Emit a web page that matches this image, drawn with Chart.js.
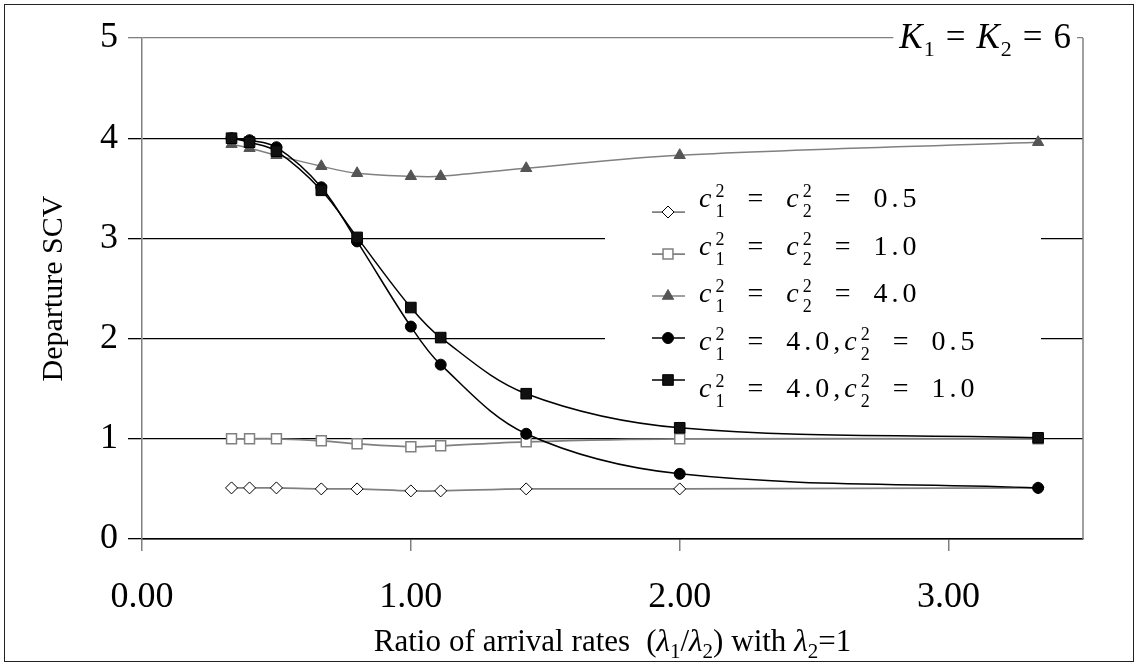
<!DOCTYPE html>
<html>
<head>
<meta charset="utf-8">
<script src="https://cdn.jsdelivr.net/npm/chart.js@4.4.1/dist/chart.umd.min.js"></script>
<style>
  html, body { margin: 0; padding: 0; background: #fff; }
  #wrap { position: relative; width: 1138px; height: 666px; }
  #frame { position: absolute; left: 4px; top: 4px; width: 1128px; height: 656px; border: 1px solid #222; pointer-events: none; }
  canvas { position: absolute; left: 0; top: 0; }
</style>
</head>
<body>
<div id="wrap">
  <canvas id="scv" width="1138" height="666"></canvas>
  <div id="frame"></div>
</div>
<script>
// arrival rate ratio lambda1/lambda2 (lambda2 = 1)
const ratios = [0.333, 0.4, 0.5, 0.667, 0.8, 1.0, 1.111, 1.429, 2.0, 3.333];

// departure SCV for each pair of arrival SCVs
const scvBoth05 = [0.51, 0.51, 0.51, 0.50, 0.50, 0.48, 0.48, 0.50, 0.50, 0.51];
const scvBoth10 = [1.00, 1.00, 1.00, 0.98, 0.95, 0.92, 0.93, 0.97, 1.00, 1.00];
const scvBoth40 = [3.94, 3.90, 3.83, 3.72, 3.65, 3.62, 3.62, 3.70, 3.83, 3.96];
const scv40and05 = [4.00, 3.98, 3.91, 3.51, 2.97, 2.12, 1.74, 1.05, 0.65, 0.51];
const scv40and10 = [4.00, 3.96, 3.87, 3.48, 3.01, 2.31, 2.01, 1.45, 1.11, 1.01];

const seriesLabels = [
  'c₁² = c₂² = 0.5',
  'c₁² = c₂² = 1.0',
  'c₁² = c₂² = 4.0',
  'c₁² = 4.0,c₂² = 0.5',
  'c₁² = 4.0,c₂² = 1.0'
];

const xTickValues = [0, 1, 2, 3];
const yTickValues = [0, 1, 2, 3, 4, 5];

const chartTitle = 'K₁ = K₂ = 6';
const xTitle = 'Ratio of arrival rates  (λ₁/λ₂) with λ₂=1';
const yTitle = 'Departure SCV';

const SERIF = "'Liberation Serif', 'Times New Roman', serif";
const SUB = '₀₁₂₃₄₅₆₇₈₉';
const SUP = '⁰¹²³⁴⁵⁶⁷⁸⁹';

function toPoints(ys) {
  return ratios.map((x, i) => ({ x: x, y: ys[i] }));
}

// split a label into plain glyphs and stacked sub/superscript pairs
function mathTokens(str) {
  const chars = Array.from(str);
  const out = [];
  for (let i = 0; i < chars.length; i++) {
    const ch = chars[i];
    const s = SUB.indexOf(ch);
    if (s >= 0) {
      const tok = { sub: String(s), sup: '' };
      const p = SUP.indexOf(chars[i + 1]);
      if (p >= 0) { tok.sup = String(p); i++; }
      out.push(tok);
    } else {
      const italic = /[A-Za-zλ]/.test(ch) && SUB.indexOf(chars[i + 1]) >= 0;
      out.push({ text: ch, italic: italic });
    }
  }
  return out;
}

function drawMath(ctx, str, x, y, o) {
  let cx = x;
  ctx.textBaseline = 'alphabetic';
  ctx.textAlign = 'left';
  for (const t of mathTokens(str)) {
    if (t.text !== undefined) {
      ctx.font = (t.italic ? 'italic ' : '') + o.size + 'px ' + SERIF;
      const w = t.text === ' ' ? o.space : ctx.measureText(t.text).width;
      if (!o.measure && t.text !== ' ') ctx.fillText(t.text, cx, y);
      cx += w + o.gap;
    } else {
      ctx.font = o.scriptSize + 'px ' + SERIF;
      const w = Math.max(ctx.measureText(t.sub).width, ctx.measureText(t.sup).width);
      if (!o.measure) {
        ctx.fillText(t.sub, cx, y + o.subShift);
        if (t.sup) ctx.fillText(t.sup, cx, y - o.supShift);
      }
      cx += w + o.gap;
    }
  }
  return cx - x - o.gap;
}

const legendText = { size: 28, scriptSize: 18, gap: 4, space: 15, subShift: 10, supShift: 10 };
const titleText = { size: 35, scriptSize: 22, gap: 1, space: 9, subShift: 8, supShift: 12 };
const axisText = { size: 31, scriptSize: 21, gap: 0, space: 8, subShift: 7, supShift: 10 };

// right frame, legend box, chart title and x-axis title
const decorations = {
  id: 'decorations',
  beforeDatasetsDraw(chart) {
    const { ctx, chartArea: a } = chart;
    ctx.save();
    ctx.strokeStyle = '#808080';
    ctx.lineWidth = 1.5;
    ctx.beginPath();
    ctx.moveTo(a.right, a.top);
    ctx.lineTo(a.right, a.bottom);
    ctx.stroke();

    // legend
    ctx.fillStyle = '#fff';
    ctx.fillRect(605, 172, 436, 250);
    chart.data.datasets.forEach((ds, i) => {
      const my = 212 + i * 42;
      ctx.strokeStyle = ds.borderColor;
      ctx.lineWidth = ds.borderWidth;
      ctx.beginPath();
      ctx.moveTo(652, my);
      ctx.lineTo(685, my);
      ctx.stroke();
      ctx.fillStyle = ds.pointBackgroundColor;
      ctx.strokeStyle = ds.pointBorderColor;
      ctx.lineWidth = ds.pointBorderWidth;
      Chart.helpers.drawPoint(ctx, {
        pointStyle: ds.pointStyle,
        radius: ds.pointRadius,
        rotation: 0,
        borderWidth: ds.pointBorderWidth
      }, 668, my);
      ctx.fillStyle = '#000';
      drawMath(ctx, ds.label, 699, 207 + i * 47.5, legendText);
    });

    // chart title in its white box
    const tw = drawMath(ctx, chartTitle, 0, 0, Object.assign({ measure: true }, titleText));
    const tx = 1071 - tw;
    ctx.fillStyle = '#fff';
    ctx.fillRect(tx - 6, 22, tw + 12, 17);
    ctx.fillStyle = '#000';
    drawMath(ctx, chartTitle, tx, 48, titleText);

    // x-axis title
    const xw = drawMath(ctx, xTitle, 0, 0, Object.assign({ measure: true }, axisText));
    drawMath(ctx, xTitle, (a.left + a.right) / 2 - xw / 2, 651, axisText);
    ctx.restore();
  }
};

const ctx = document.getElementById('scv').getContext('2d');
new Chart(ctx, {
  type: 'line',
  data: {
    datasets: [
      {
        label: seriesLabels[0],
        data: toPoints(scvBoth05),
        borderColor: '#808080',
        borderWidth: 1.75,
        pointStyle: 'rectRot',
        pointRadius: 6,
        pointBackgroundColor: '#fff',
        pointBorderColor: '#000',
        pointBorderWidth: 1,
        order: 5
      },
      {
        label: seriesLabels[1],
        data: toPoints(scvBoth10),
        borderColor: '#808080',
        borderWidth: 1.75,
        pointStyle: 'rect',
        pointRadius: 7,
        pointBackgroundColor: '#fff',
        pointBorderColor: '#808080',
        pointBorderWidth: 1.5,
        order: 4
      },
      {
        label: seriesLabels[2],
        data: toPoints(scvBoth40),
        borderColor: '#808080',
        borderWidth: 1.5,
        pointStyle: 'triangle',
        pointRadius: 6.5,
        pointBackgroundColor: '#555',
        pointBorderColor: '#555',
        pointBorderWidth: 1,
        order: 3
      },
      {
        label: seriesLabels[3],
        data: toPoints(scv40and05),
        borderColor: '#000',
        borderWidth: 1.5,
        pointStyle: 'circle',
        pointRadius: 5.5,
        pointBackgroundColor: '#000',
        pointBorderColor: '#000',
        pointBorderWidth: 1,
        order: 2
      },
      {
        label: seriesLabels[4],
        data: toPoints(scv40and10),
        borderColor: '#000',
        borderWidth: 1.5,
        pointStyle: 'rect',
        pointRadius: 7.5,
        pointBackgroundColor: '#111',
        pointBorderColor: '#000',
        pointBorderWidth: 1,
        order: 1
      }
    ]
  },
  options: {
    responsive: false,
    animation: false,
    events: [],
    elements: { line: { tension: 0.35 } },
    layout: { padding: { left: 0, right: 55, top: 38, bottom: 0 } },
    plugins: {
      legend: { display: false },
      tooltip: { enabled: false }
    },
    scales: {
      x: {
        type: 'linear',
        min: 0,
        max: 3.5,
        afterBuildTicks: (scale) => { scale.ticks = xTickValues.map((v) => ({ value: v })); },
        afterFit: (scale) => { scale.height = 127; },
        grid: { drawOnChartArea: false, tickLength: 12, color: '#808080', lineWidth: 1.5 },
        border: { color: '#000', width: 1.5 },
        ticks: {
          color: '#000',
          padding: 25,
          maxRotation: 0,
          font: { family: SERIF, size: 36 },
          callback: (v) => Number(v).toFixed(2)
        }
      },
      y: {
        min: 0,
        max: 5,
        afterBuildTicks: (scale) => { scale.ticks = yTickValues.map((v) => ({ value: v })); },
        afterFit: (scale) => { scale.width = 142; },
        grid: {
          color: (c) => (c.tick && c.tick.value === 5 ? '#808080' : '#000'),
          lineWidth: 1.3,
          tickLength: 14
        },
        border: { color: '#808080', width: 1.5 },
        ticks: { color: '#000', padding: 10, font: { family: SERIF, size: 36 } },
        title: {
          display: true,
          text: yTitle,
          color: '#000',
          font: { family: SERIF, size: 30 },
          padding: { top: 36 }
        }
      }
    }
  },
  plugins: [decorations]
});
</script>
</body>
</html>
